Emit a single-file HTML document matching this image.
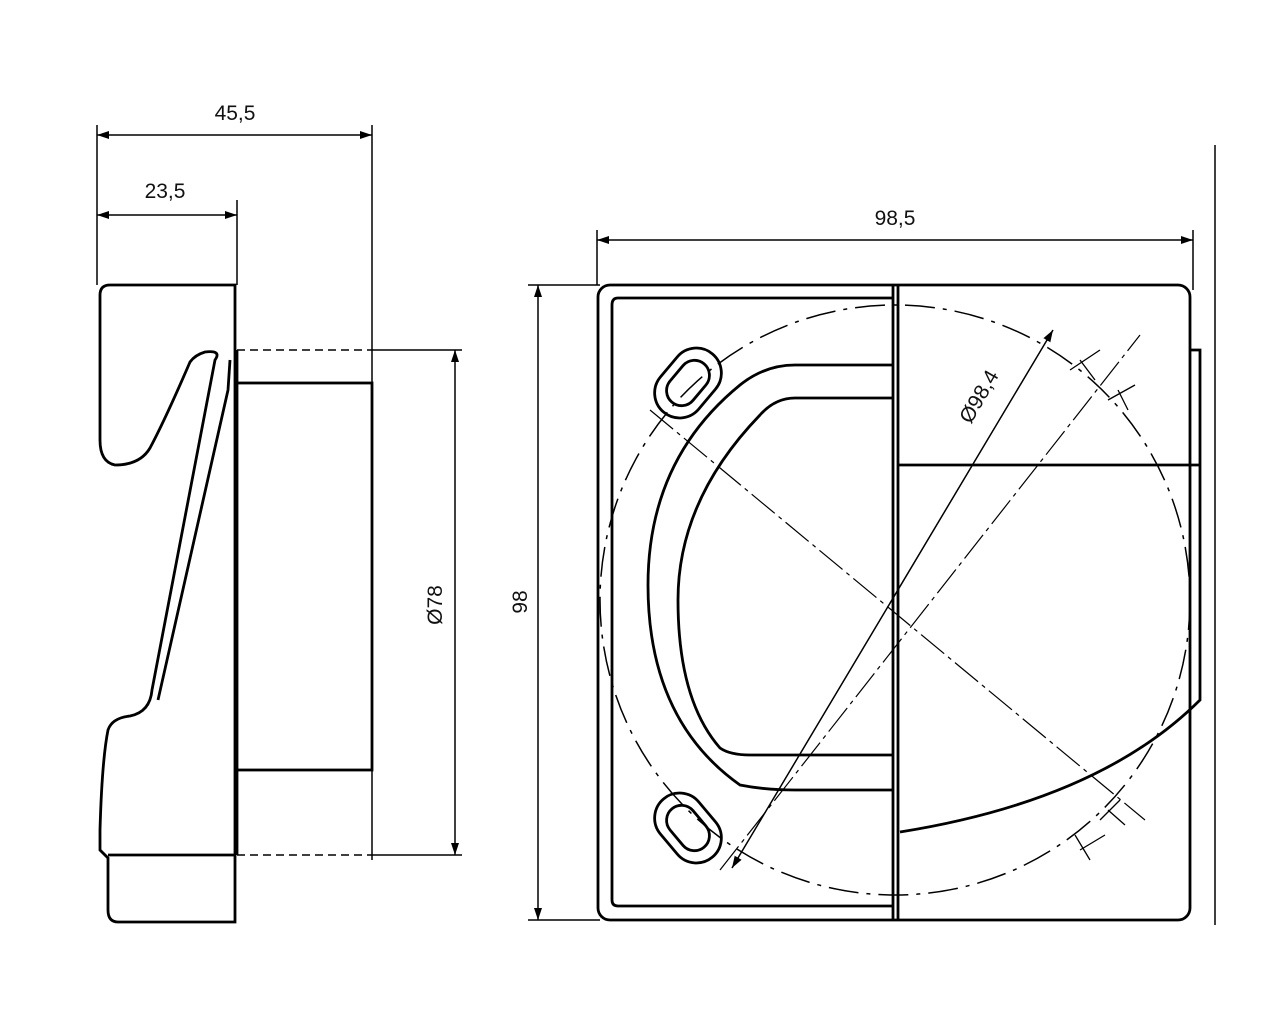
<!DOCTYPE html>
<html><head><meta charset="utf-8"><style>
html,body{margin:0;padding:0;background:#fff;}
svg{display:block}
text{font-family:"Liberation Sans",sans-serif;font-size:21px;fill:#111}
</style></head><body>
<svg width="1280" height="1024" viewBox="0 0 1280 1024" xmlns="http://www.w3.org/2000/svg">
<defs>
<marker id="a" markerWidth="12" markerHeight="8" refX="12" refY="4" orient="auto-start-reverse" markerUnits="userSpaceOnUse"><path d="M0,0 L12,4 L0,8 z" fill="#000"/></marker>
</defs>
<g stroke="#000" fill="none" stroke-width="1.5">
<line x1="97" y1="125" x2="97" y2="285"/>
<line x1="372" y1="125" x2="372" y2="860"/>
<line x1="237" y1="200" x2="237" y2="285"/>
<line x1="97" y1="135" x2="372" y2="135" marker-start="url(#a)" marker-end="url(#a)"/>
<line x1="97" y1="215" x2="237" y2="215" marker-start="url(#a)" marker-end="url(#a)"/>
<line x1="372" y1="350" x2="462" y2="350"/>
<line x1="372" y1="855" x2="462" y2="855"/>
<line x1="455" y1="350" x2="455" y2="855" marker-start="url(#a)" marker-end="url(#a)"/>
<g stroke-width="2.8">
<path d="M110,285 L235,285 L235,922 L118,922 Q108,922 108,910 L108,858 L100,850 L100,830 Q102,760 108,730 Q112,718 130,716 Q150,712 152,690 L215,360 Q222,350 205,352 Q195,355 190,362 Q165,420 150,448 Q140,465 115,465 Q100,462 100,440 L100,295 Q100,285 110,285 Z"/>
<line x1="108" y1="855" x2="235" y2="855"/>
<path d="M230,360 L228,390 L158,700"/>
<rect x="237" y="383" width="135" height="387"/>
<line x1="237" y1="350" x2="237" y2="383"/>
<line x1="237" y1="770" x2="237" y2="855"/>
</g>
<line x1="237" y1="350" x2="372" y2="350" stroke-dasharray="8,5"/>
<line x1="237" y1="855" x2="372" y2="855" stroke-dasharray="8,5"/>
<line x1="597" y1="230" x2="597" y2="285"/>
<line x1="1193" y1="230" x2="1193" y2="290"/>
<line x1="597" y1="240" x2="1193" y2="240" marker-start="url(#a)" marker-end="url(#a)"/>
<line x1="528" y1="285" x2="600" y2="285"/>
<line x1="528" y1="920" x2="600" y2="920"/>
<line x1="538" y1="285" x2="538" y2="920" marker-start="url(#a)" marker-end="url(#a)"/>
<line x1="1215" y1="145" x2="1215" y2="925"/>
<circle cx="895" cy="600" r="295" stroke-dasharray="30,8,4,8"/>
<g stroke-width="1.2" stroke-dasharray="30,5,4,5">
<line x1="650" y1="410" x2="1145" y2="820"/>
<line x1="720" y1="870" x2="1140" y2="335"/>
</g>
<line x1="732" y1="868" x2="1053" y2="330" marker-start="url(#a)" marker-end="url(#a)"/>
<g stroke-width="2.8">
<rect x="598" y="285" width="592" height="635" rx="12"/>
<path d="M893,298 L618,298 Q612,298 612,305 L612,900 Q612,906 618,906 L893,906"/>
<line x1="893" y1="285" x2="893" y2="920"/>
<line x1="898" y1="285" x2="898" y2="920"/>
<line x1="898" y1="465" x2="1200" y2="465"/>
<path d="M1190,350 L1200,350 L1200,700 Q1100,800 900,832"/>
<path d="M893,365 L795,365 Q765,365 740,385 Q648,460 648,585 Q648,720 740,785 Q765,790 795,790 L893,790"/>
<path d="M893,398 L795,398 Q775,398 760,415 Q678,500 678,600 Q678,700 720,748 Q730,755 750,755 L893,755"/>
<g transform="rotate(-50 688 383)"><rect x="650" y="358" width="76" height="50" rx="25"/><rect x="663" y="368" width="50" height="30" rx="15"/></g>
<g transform="rotate(50 688 828)"><rect x="650" y="803" width="76" height="50" rx="25"/><rect x="663" y="813" width="50" height="30" rx="15"/></g>
</g>
<g stroke-width="1.3">
<path d="M1070,370 L1100,350 M1080,360 L1095,380 M1108,400 L1135,385 M1118,390 L1128,410"/>
<path d="M1075,835 L1090,860 M1080,850 L1105,835 M1108,810 L1125,825 M1100,820 L1120,800"/>
</g>
</g>
<text x="235" y="120" text-anchor="middle">45,5</text>
<text x="165" y="198" text-anchor="middle">23,5</text>
<text x="895" y="225" text-anchor="middle">98,5</text>
<text transform="translate(442,605) rotate(-90)" text-anchor="middle">Ø78</text>
<text transform="translate(527,602) rotate(-90)" text-anchor="middle">98</text>
<text transform="translate(985,400) rotate(-60)" text-anchor="middle">Ø98,4</text>
</svg>
</body></html>
